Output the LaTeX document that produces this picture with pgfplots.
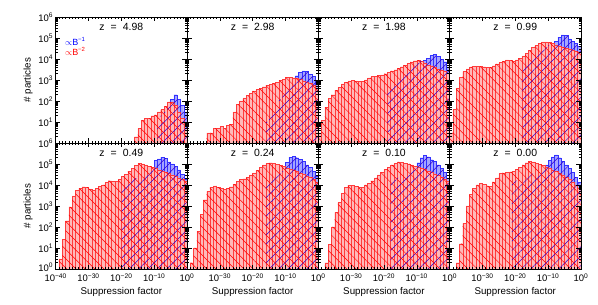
\documentclass[border=0pt]{standalone}
\usepackage{fontspec}
\setmainfont{Liberation Sans}
\usepackage{pgfplots}
\pgfplotsset{compat=1.18}
\usepackage{pgfplotstable}
\usetikzlibrary{patterns.meta}
\definecolor{pinkfill}{RGB}{255,185,185}
\definecolor{bluefill}{RGB}{165,165,255}
\definecolor{redline}{RGB}{255,60,60}
\definecolor{blueline}{RGB}{50,50,255}

\pgfplotstableread{
x r b
-16 2 1
-15 5 1
-14 12 1
-13 15 1
-12 15 1
-11 20 1
-10 22 1
-9 30 8
-8 40 20
-7 55 30
-6 90 60
-5 90 120
-4 60 200
-3 30 120
-2 15 60
-1 5 30
0 1 1
}\tA
\pgfplotstableread{
x r b
-34 3 1
-33 3 1
-32 5 1
-31 5 1
-30 6 1
-29 5 1
-28 7 1
-27 8 1
-26 30 1
-25 70 1
-24 100 1
-23 140 1
-22 180 1
-21 230 1
-20 300 1
-19 350 1
-18 400 1
-17 480 1
-16 560 10
-15 630 20
-14 700 40
-13 800 70
-12 950 120
-11 1100 200
-10 1350 350
-9 1350 600
-8 1280 1100
-7 1200 1600
-6 1050 2300
-5 900 2700
-4 830 2600
-3 700 1900
-2 550 1500
-1 420 850
0 1 1
}\tB
\pgfplotstableread{
x r b
-40 3 1
-39 12 1
-38 50 1
-37 130 1
-36 200 1
-35 330 1
-34 450 1
-33 650 1
-32 800 1
-31 900 1
-30 930 1
-29 900 1
-28 850 1
-27 850 1
-26 1000 1
-25 1250 1
-24 1450 1
-23 1550 1
-22 1650 1
-21 1750 1
-20 2000 1
-19 2300 400
-18 2700 600
-17 3100 800
-16 3700 1100
-15 4300 1500
-14 5000 2000
-13 6000 2700
-12 7200 3600
-11 8300 5000
-10 8900 6500
-9 8000 8000
-8 6300 8500
-7 5300 11000
-6 4700 14500
-5 4000 16600
-4 3300 13000
-3 3000 9500
-2 2600 7400
-1 2200 4300
0 1 1
}\tC
\pgfplotstableread{
x r b
-40 3 1
-39 40 1
-38 400 1
-37 1300 1
-36 2500 1
-35 3400 1
-34 4200 1
-33 4500 1
-32 4600 1
-31 4500 1
-30 4300 1
-29 4000 1
-28 4100 1
-27 4800 1
-26 5800 1
-25 6800 1
-24 8000 1
-23 9000 1
-22 8500 1
-21 8000 1
-20 9000 1
-19 11000 1
-18 14000 4500
-17 18000 6000
-16 25000 8000
-15 35000 11000
-14 45000 15000
-13 57000 20000
-12 65000 27000
-11 65000 36000
-10 60000 45000
-9 55000 52000
-8 48000 70000
-7 42000 110000
-6 37000 140000
-5 33000 130000
-4 30000 90000
-3 27000 70000
-2 24000 55000
-1 21000 40000
0 1 1
}\tD
\pgfplotstableread{
x r b
-39 3 1
-38 25 1
-37 200 1
-36 900 1
-35 3000 1
-34 5500 1
-33 7000 1
-32 8300 1
-31 8000 1
-30 6500 1
-29 5800 1
-28 7000 1
-27 8500 1
-26 10000 1
-25 13000 1
-24 16000 1
-23 15000 1
-22 14500 1
-21 18000 1
-20 25000 12000
-19 32000 14000
-18 45000 16000
-17 60000 18000
-16 85000 21000
-15 105000 25000
-14 100000 30000
-13 90000 36000
-12 80000 42000
-11 70000 50000
-10 60000 150000
-9 50000 175000
-8 45000 210000
-7 40000 190000
-6 35000 125000
-5 30000 100000
-4 25000 75000
-3 21000 52000
-2 18000 33000
-1 15000 18000
0 1 1
}\tE
\pgfplotstableread{
x r b
-39 2 1
-38 10 1
-37 60 1
-36 400 1
-35 2000 1
-34 5000 1
-33 8000 1
-32 9000 1
-31 8000 1
-30 7000 1
-29 6200 1
-28 7000 1
-27 8300 1
-26 11000 1
-25 15000 1
-24 18000 1
-23 20000 1
-22 24000 1
-21 30000 1
-20 38000 1
-19 50000 1
-18 70000 1
-17 90000 1
-16 110000 15000
-15 115000 18000
-14 105000 22000
-13 95000 28000
-12 85000 35000
-11 75000 45000
-10 65000 120000
-9 58000 210000
-8 52000 240000
-7 45000 200000
-6 38000 165000
-5 33000 130000
-4 27000 90000
-3 23000 70000
-2 18000 45000
-1 14000 26000
0 1 1
}\tF
\pgfplotstableread{
x r b
-38 2 1
-37 15 1
-36 100 1
-35 500 1
-34 1500 1
-33 4000 1
-32 8000 1
-31 9500 1
-30 9500 1
-29 8500 1
-28 7500 1
-27 8000 1
-26 10000 1
-25 12000 1
-24 16000 1
-23 22000 1
-22 30000 1
-21 40000 1
-20 55000 1
-19 70000 1
-18 90000 15000
-17 110000 18000
-16 125000 22000
-15 120000 27000
-14 110000 33000
-13 100000 40000
-12 90000 50000
-11 80000 60000
-10 70000 115000
-9 62000 200000
-8 55000 255000
-7 46000 220000
-6 40000 160000
-5 34000 130000
-4 29000 90000
-3 24000 60000
-2 19000 40000
-1 15000 22000
0 1 1
}\tG
\pgfplotstableread{
x r b
-38 2 1
-37 16 1
-36 150 1
-35 1000 1
-34 3500 1
-33 7000 1
-32 10000 1
-31 12000 1
-30 11000 1
-29 9000 1
-28 8500 1
-27 14000 1
-26 22000 1
-25 35000 1
-24 38000 1
-23 40000 1
-22 42000 1
-21 45000 14000
-20 55000 16000
-19 70000 19000
-18 90000 22000
-17 115000 26000
-16 130000 30000
-15 125000 35000
-14 110000 40000
-13 95000 46000
-12 85000 55000
-11 72000 90000
-10 60000 150000
-9 52000 220000
-8 44000 270000
-7 37000 200000
-6 30000 130000
-5 24000 90000
-4 19000 60000
-3 14000 40000
-2 10000 24000
-1 7000 13000
0 1 1
}\tH

\newcommand{\hist}[1]{%
  \addplot[ybar interval, fill=bluefill, draw=blueline, line width=0.35bp] table[x=x,y=b]{#1};
  \addplot[ybar interval, fill=pinkfill, draw=redline, line width=0.35bp] table[x=x,y=r]{#1};
  \addplot[ybar interval, draw=none, pattern={Lines[angle=45,distance=6.6bp,line width=0.5bp]}, pattern color=blue!80!red] table[x=x,y=b]{#1};
  \addplot[ybar interval, draw=none, pattern={Lines[angle=-45,distance=6.6bp,line width=0.5bp]}, pattern color=red] table[x=x,y=r]{#1};
}
\newcommand{\ztitle}[1]{\node[font=\fontsize{10.5}{11}\selectfont] at (rel axis cs:0.5,0.925) {z\hspace{6bp}=\hspace{6bp}#1};}
\newcommand{\tp}[1]{10\textsuperscript{#1}}

\pgfplotsset{
  hpanel/.style={
    scale only axis, width=131.3bp, height=126bp, anchor=south west,
    xmin=-40, xmax=0, ymin=1, ymax=1e6,
    axis on top, tick align=inside,
    xtick={-40,-30,-20,-10,0}, minor x tick num=9,
    ytick={1,10,100,1000,10000,100000,1000000},
    xticklabels={}, yticklabels={},
    major tick length=4.5bp, minor tick length=2.2bp,
    tick style={black, line width=0.5pt},
    axis line style={black, line width=0.6pt},
    tick label style={font=\fontsize{9.5}{10}\selectfont},
    yticklabel style={xshift=1bp},
    xticklabel style={yshift=-1bp},
    label style={font=\fontsize{9.8}{11}\selectfont},
  },
  hylab/.style={ylabel={\# particles},
    every axis y label/.append style={at={(rel axis cs:-0.211,0.5)}, anchor=center}},
  hxlab/.style={xlabel={Suppression factor},
    every axis x label/.append style={at={(rel axis cs:0.5,-0.183)}, anchor=center}},
}

\begin{document}
\begin{tikzpicture}
\useasboundingbox (0,0) rectangle (598bp,305bp);
% top row
\begin{semilogyaxis}[hpanel, hylab, at={(55.7bp,162bp)},
  yticklabels={,\tp{1},\tp{2},\tp{3},\tp{4},\tp{5},\tp{6}}]
\hist{\tA}
\ztitle{4.98}
\node[anchor=west, text=blue, font=\fontsize{9}{9}\selectfont, inner sep=0pt] at (rel axis cs:0.07,0.805) {$\propto$B\textsuperscript{−1}};
\node[anchor=west, text=red, font=\fontsize{9}{9}\selectfont, inner sep=0pt] at (rel axis cs:0.07,0.725) {$\propto$B\textsuperscript{−2}};
\end{semilogyaxis}
\begin{semilogyaxis}[hpanel, at={(187bp,162bp)}]
\hist{\tB}
\ztitle{2.98}
\end{semilogyaxis}
\begin{semilogyaxis}[hpanel, at={(318.3bp,162bp)}]
\hist{\tC}
\ztitle{1.98}
\end{semilogyaxis}
\begin{semilogyaxis}[hpanel, at={(449.6bp,162bp)}]
\hist{\tD}
\ztitle{0.99}
\end{semilogyaxis}
% bottom row
\begin{semilogyaxis}[hpanel, hylab, hxlab, at={(55.7bp,36bp)},
  yticklabels={\raisebox{3.5bp}{\tp{0}},\tp{1},\tp{2},\tp{3},\tp{4},\tp{5},\tp{6}},
  xticklabels={\tp{−40},\tp{−30},\tp{−20},\tp{−10},\tp{0}}]
\hist{\tE}
\ztitle{0.49}
\end{semilogyaxis}
\begin{semilogyaxis}[hpanel, hxlab, at={(187bp,36bp)},
  xticklabels={,\tp{−30},\tp{−20},\tp{−10},\tp{0}}]
\hist{\tF}
\ztitle{0.24}
\end{semilogyaxis}
\begin{semilogyaxis}[hpanel, hxlab, at={(318.3bp,36bp)},
  xticklabels={,\tp{−30},\tp{−20},\tp{−10},\tp{0}}]
\hist{\tG}
\ztitle{0.10}
\end{semilogyaxis}
\begin{semilogyaxis}[hpanel, hxlab, at={(449.6bp,36bp)},
  xticklabels={,\tp{−30},\tp{−20},\tp{−10},\tp{0}}]
\hist{\tH}
\ztitle{0.00}
\end{semilogyaxis}
\end{tikzpicture}
\end{document}
